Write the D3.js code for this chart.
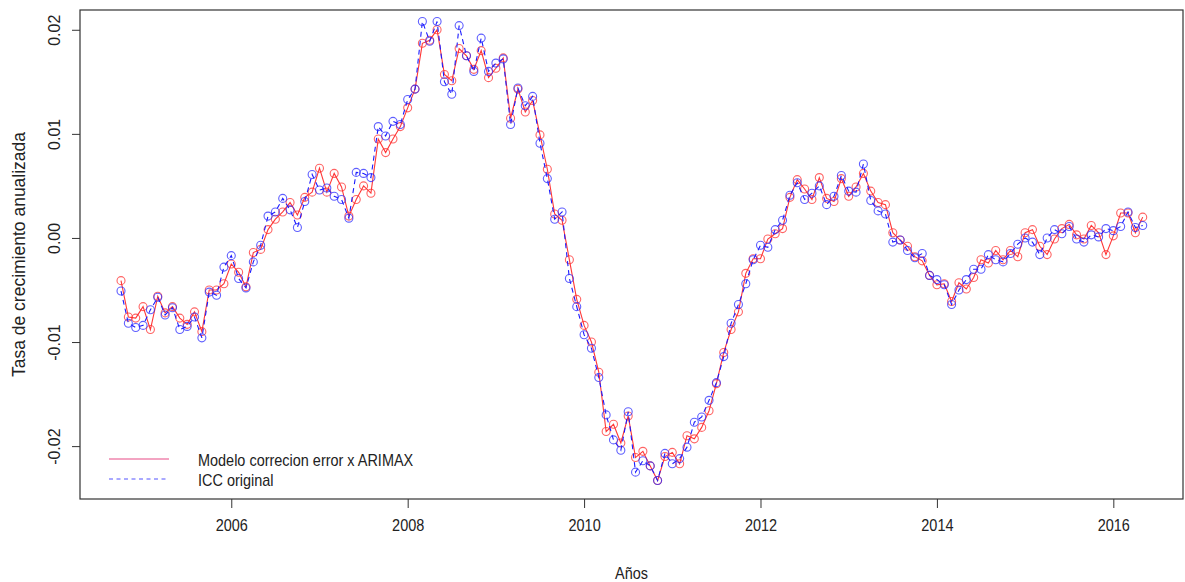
<!doctype html>
<html lang="es">
	<head>
		<meta charset="UTF-8">
		<title>ICC vs modelo</title>
		<style>
		body { margin: 0; background: #fff; }
		svg { display: block; }
		.narrow { font-family: "Liberation Sans", Arial, sans-serif; font-size: 17px; fill: #222; }
		.regular { font-family: "Liberation Sans", Arial, sans-serif; fill: #222; }
		</style>
	</head>
	<body>
		<script src="https://d3js.org/d3.v7.min.js"></script>
		<script>
			// monthly series, Oct 2004 .. May 2016
			var startYear = 2004, startMonth = 10;

			var modelo = [
				-0.0041, -0.0076, -0.0077, -0.0066, -0.0088, -0.0056, -0.0072, -0.0066, -0.0077, -0.0083, -0.0071, -0.0090,
				-0.0050, -0.0050, -0.0044, -0.0025, -0.0033, -0.0047, -0.0014, -0.0011, 0.0008, 0.0018, 0.0025, 0.0034,
				0.0022, 0.0039, 0.0044, 0.0067, 0.0044, 0.0062, 0.0049, 0.0021, 0.0037, 0.0050, 0.0043, 0.0095,
				0.0082, 0.0095, 0.0107, 0.0125, 0.0143, 0.0187, 0.0190, 0.0200, 0.0157, 0.0151, 0.0182, 0.0175,
				0.0162, 0.0180, 0.0154, 0.0163, 0.0173, 0.0115, 0.0143, 0.0121, 0.0132, 0.0099, 0.0066, 0.0023,
				0.0017, -0.0021, -0.0059, -0.0084, -0.0100, -0.0129, -0.0186, -0.0179, -0.0197, -0.0171, -0.0211, -0.0205,
				-0.0219, -0.0233, -0.0210, -0.0206, -0.0217, -0.0190, -0.0193, -0.0182, -0.0166, -0.0140, -0.0110, -0.0088,
				-0.0071, -0.0034, -0.0020, -0.0020, -0.0001, 0.0004, 0.0009, 0.0039, 0.0056, 0.0047, 0.0037, 0.0058,
				0.0038, 0.0035, 0.0057, 0.0040, 0.0049, 0.0062, 0.0045, 0.0034, 0.0032, 0.0005, -0.0002, -0.0008,
				-0.0018, -0.0022, -0.0036, -0.0045, -0.0044, -0.0061, -0.0043, -0.0049, -0.0038, -0.0021, -0.0024, -0.0012,
				-0.0021, -0.0012, -0.0018, 0.0005, 0.0008, -0.0008, -0.0016, -0.0001, 0.0009, 0.0013, 0.0003, -0.0001,
				0.0012, 0.0005, -0.0016, 0.0002, 0.0024, 0.0024, 0.0005, 0.0020
			];

			var icc = [
				-0.0051, -0.0082, -0.0086, -0.0084, -0.0069, -0.0057, -0.0074, -0.0067, -0.0088, -0.0085, -0.0076, -0.0096,
				-0.0052, -0.0055, -0.0028, -0.0017, -0.0039, -0.0048, -0.0023, -0.0007, 0.0021, 0.0025, 0.0038, 0.0027,
				0.0010, 0.0035, 0.0061, 0.0046, 0.0048, 0.0040, 0.0037, 0.0019, 0.0063, 0.0062, 0.0058, 0.0107,
				0.0098, 0.0112, 0.0109, 0.0133, 0.0143, 0.0208, 0.0189, 0.0208, 0.0150, 0.0138, 0.0204, 0.0175,
				0.0160, 0.0192, 0.0160, 0.0168, 0.0172, 0.0109, 0.0144, 0.0127, 0.0136, 0.0091, 0.0057, 0.0018,
				0.0025, -0.0039, -0.0066, -0.0093, -0.0106, -0.0134, -0.0170, -0.0194, -0.0204, -0.0167, -0.0225, -0.0214,
				-0.0219, -0.0233, -0.0207, -0.0217, -0.0212, -0.0201, -0.0177, -0.0172, -0.0156, -0.0139, -0.0114, -0.0082,
				-0.0064, -0.0044, -0.0021, -0.0007, -0.0009, 0.0008, 0.0017, 0.0041, 0.0053, 0.0037, 0.0043, 0.0050,
				0.0032, 0.0040, 0.0060, 0.0045, 0.0044, 0.0071, 0.0036, 0.0026, 0.0023, -0.0004, -0.0002, -0.0012,
				-0.0019, -0.0015, -0.0036, -0.0040, -0.0045, -0.0064, -0.0050, -0.0040, -0.0030, -0.0030, -0.0016, -0.0021,
				-0.0023, -0.0015, -0.0006, 0.0000, -0.0004, -0.0016, 0.0000, 0.0008, 0.0004, 0.0011, -0.0001, -0.0004,
				0.0003, 0.0001, 0.0009, 0.0007, 0.0011, 0.0025, 0.0010, 0.0012
			];

			var xTicks = [2006, 2008, 2010, 2012, 2014, 2016];
			var yTicks = [-0.02, -0.01, 0.00, 0.01, 0.02];
			var yTickLabels = ["-0.02", "-0.01", "0.00", "0.01", "0.02"];
			var seriesNames = ["Modelo correcion error x ARIMAX", "ICC original"];

			var width = 1185,
				height = 582,
				pLeft = 80, pRight = 1183, pTop = 10, pBottom = 499;

			function t(i) { return startYear + (startMonth - 1) / 12 + i / 12; }

			var x = d3.scaleLinear().domain([2004.285, 2016.79]).range([pLeft, pRight]);
			var y = d3.scaleLinear().domain([-0.02508, 0.02190]).range([pBottom, pTop]);

			var svg = d3.select("body").append("svg")
				.attr("width", width)
				.attr("height", height);

			// box
			svg.append("rect")
				.attr("x", pLeft).attr("y", pTop)
				.attr("width", pRight - pLeft).attr("height", pBottom - pTop)
				.attr("fill", "none").attr("stroke", "#333").attr("stroke-width", 1.2);

			// x axis
			var gx = svg.append("g").attr("transform", "translate(0," + pBottom + ")")
				.call(d3.axisBottom(x).tickValues(xTicks).tickFormat(d3.format("d")).tickSize(9).tickPadding(11));
			gx.select(".domain").remove();
			gx.selectAll("line").attr("stroke", "#333");
			gx.selectAll("text").attr("class", "narrow");
			gx.attr("font-size", null).attr("font-family", null);

			// y axis (labels parallel to axis)
			var gy = svg.append("g").attr("transform", "translate(" + pLeft + ",0)")
				.call(d3.axisLeft(y).tickValues(yTicks).tickSize(8).tickFormat(function(d, i){ return yTickLabels[i]; }));
			gy.select(".domain").remove();
			gy.attr("font-size", null).attr("font-family", null);
			gy.selectAll("line").attr("stroke", "#333");
			gy.selectAll("text")
				.attr("class", "regular")
				.attr("font-size", "16px")
				.attr("x", null).attr("dy", null)
				.attr("text-anchor", "middle")
				.attr("transform", "translate(-20,0) rotate(-90)");

			// axis titles
			svg.append("text")
				.attr("class", "narrow")
				.attr("x", (pLeft + pRight) / 2)
				.attr("y", 579)
				.attr("text-anchor", "middle")
				.text("Años");

			svg.append("text")
				.attr("class", "regular")
				.attr("font-size", "17.5px")
				.attr("text-anchor", "middle")
				.attr("transform", "translate(25," + ((pTop + pBottom) / 2) + ") rotate(-90)")
				.text("Tasa de crecimiento anualizada");

			var line = d3.line()
				.x(function(d, i){ return x(t(i)); })
				.y(function(d){ return y(d); });

			// red series
			svg.append("path")
				.datum(modelo)
				.attr("d", line)
				.attr("fill", "none")
				.attr("stroke", "#ff2020")
				.attr("stroke-opacity", 0.9)
				.attr("stroke-width", 1.1);

			svg.append("g").selectAll("circle")
				.data(modelo)
				.enter()
				.append("circle")
				.attr("cx", function(d, i){ return x(t(i)); })
				.attr("cy", function(d){ return y(d); })
				.attr("r", 4)
				.attr("fill", "none")
				.attr("stroke", "#ff3030")
				.attr("stroke-opacity", 0.75)
				.attr("stroke-width", 1.1);

			// blue series
			svg.append("path")
				.datum(icc)
				.attr("d", line)
				.attr("fill", "none")
				.attr("stroke", "#1a1aff")
				.attr("stroke-width", 1.1)
				.attr("stroke-dasharray", "5,4");

			svg.append("g").selectAll("circle")
				.data(icc)
				.enter()
				.append("circle")
				.attr("cx", function(d, i){ return x(t(i)); })
				.attr("cy", function(d){ return y(d); })
				.attr("r", 4)
				.attr("fill", "none")
				.attr("stroke", "#2a2aff")
				.attr("stroke-opacity", 0.75)
				.attr("stroke-width", 1.1);

			// legend
			var legend = svg.append("g");
			legend.selectAll("line")
				.data(seriesNames)
				.enter()
				.append("line")
				.attr("x1", 109).attr("x2", 169)
				.attr("y1", function(d, i){ return 459 + i * 20; })
				.attr("y2", function(d, i){ return 459 + i * 20; })
				.attr("stroke", function(d, i){ return i == 0 ? "#e84a86" : "#5555ff"; })
				.attr("stroke-width", 1.2)
				.attr("stroke-dasharray", function(d, i){ return i == 0 ? null : "4,3.5"; });

			legend.selectAll("text")
				.data(seriesNames)
				.enter()
				.append("text")
				.attr("class", "narrow")
				.attr("x", 198)
				.attr("y", function(d, i){ return 466 + i * 20; })
				.text(function(d){ return d; });

			// the reference text is horizontally condensed: squeeze horizontal labels
			svg.selectAll("text.narrow").each(function(){
				var w = this.getComputedTextLength();
				d3.select(this)
					.attr("textLength", (w * 0.85).toFixed(1))
					.attr("lengthAdjust", "spacingAndGlyphs");
			});
		</script>
	</body>
</html>
